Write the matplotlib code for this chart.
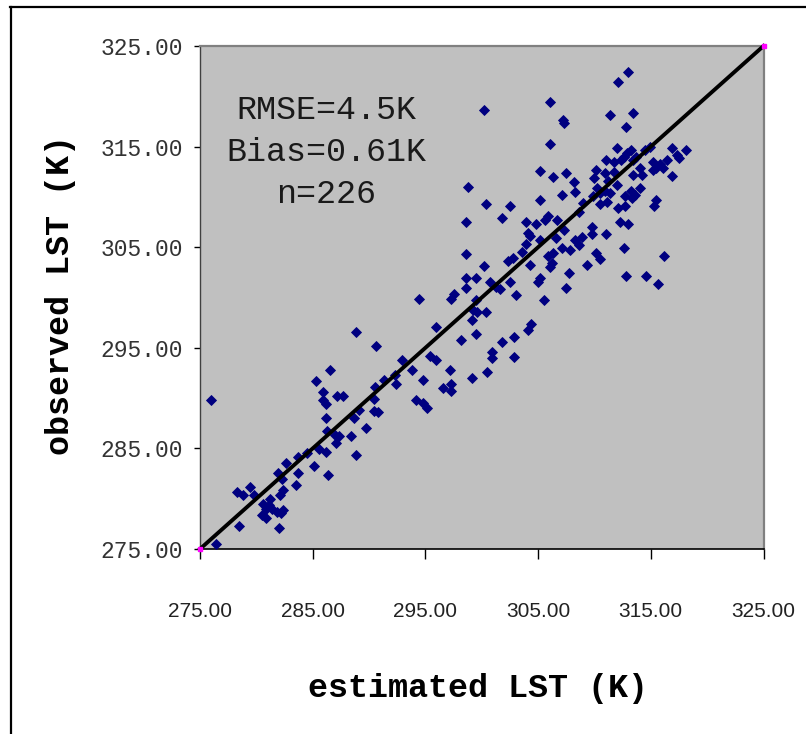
import matplotlib
matplotlib.use("Agg")
import matplotlib.pyplot as plt
from matplotlib.lines import Line2D
from matplotlib.ticker import FormatStrFormatter

# estimated vs observed land surface temperature (K)
est_lst = [276.0, 285.3, 285.9, 287.2, 287.7, 285.9, 286.2, 286.2, 288.7, 289.1,
           290.4, 290.8, 290.5, 290.4, 291.3, 292.4, 289.7, 286.3, 287.0, 287.3,
           287.1, 288.4, 285.6, 286.2, 284.5, 283.7, 288.8, 282.6, 281.9, 283.7,
           285.1, 286.4, 282.3, 283.5, 279.4, 278.3, 278.8, 279.8, 282.4, 282.1,
           281.2, 280.6, 281.1, 281.4, 280.9, 281.8, 282.4, 282.2, 280.5, 280.9,
           278.5, 282.0, 276.4,
           286.5, 288.8, 290.6, 292.9, 293.8, 292.3, 294.8, 297.3, 296.6, 297.3,
           299.1, 300.5, 300.9, 300.9, 301.8, 302.9, 302.9, 304.1, 304.4, 294.2,
           294.8, 295.1, 295.4, 295.9, 297.2, 295.9, 299.5, 298.2, 299.2, 299.6,
           299.1, 300.4, 294.4, 297.5, 297.3, 299.5, 298.6, 300.7, 298.6, 299.5,
           300.2, 298.6, 301.3, 301.6, 302.5, 303.0, 305.5, 305.0, 305.2, 304.3,
           302.3, 302.8, 303.6, 303.9, 305.2, 305.9, 306.3, 306.1, 306.2, 307.1,
           307.8, 307.7, 307.5, 308.3, 308.6, 308.9,
           306.1, 300.2, 307.2, 307.3, 306.1, 305.2, 307.5, 306.3, 308.2, 308.3,
           307.1, 298.8, 305.2, 300.4, 302.5, 301.8, 298.6, 303.9, 304.8, 305.6,
           305.9, 306.7, 304.1, 304.3, 307.3, 306.6, 309.3, 309.8, 309.8, 310.1,
           310.5, 311.0, 312.1, 312.7, 312.3, 313.0, 312.6, 312.8, 314.6, 315.6,
           316.2, 315.3, 315.5, 313.0, 312.1, 311.4, 313.4, 312.8, 312.0, 313.2,
           314.9, 314.5, 316.9, 318.1, 317.3, 317.5, 311.0, 311.7, 312.6, 312.9,
           312.4, 313.4, 313.7, 315.2, 315.8, 316.4, 315.5, 316.1, 315.2, 316.9,
           314.0, 314.2, 313.4, 310.1, 310.9, 311.7, 310.0, 311.2, 312.0, 310.2,
           310.5, 310.9, 311.4, 312.7, 313.2, 313.6, 314.0, 313.3, 309.9, 310.5,
           311.1, 309.0, 308.6]
obs_lst = [289.8, 291.7, 290.6, 290.2, 290.2, 289.8, 289.4, 288.0, 288.0, 288.8,
           288.7, 288.6, 291.1, 289.9, 291.8, 291.4, 287.0, 286.7, 286.3, 286.2,
           285.5, 286.2, 284.9, 284.6, 284.5, 284.1, 284.3, 283.5, 282.6, 282.6,
           283.3, 282.4, 282.0, 281.4, 281.2, 280.7, 280.4, 280.4, 280.9, 280.4,
           280.0, 279.5, 279.4, 279.0, 279.0, 278.7, 278.9, 278.6, 278.4, 278.1,
           277.3, 277.1, 275.5,
           292.8, 296.6, 295.2, 293.8, 292.8, 292.3, 291.8, 291.4, 291.0, 290.7,
           292.0, 292.6, 294.6, 294.0, 295.6, 296.1, 294.1, 296.8, 297.4, 289.8,
           289.5, 289.0, 294.2, 293.8, 292.8, 297.1, 296.4, 295.8, 298.8, 298.6,
           297.8, 298.6, 299.9, 300.3, 299.9, 299.8, 300.9, 301.5, 301.9, 301.9,
           303.1, 304.3, 301.0, 300.8, 301.5, 300.2, 299.8, 301.5, 301.9, 303.2,
           303.6, 303.9, 304.5, 305.3, 305.7, 304.1, 304.4, 303.0, 303.4, 304.9,
           304.7, 302.4, 300.9, 305.7, 305.2, 306.0,
           319.4, 318.6, 317.6, 317.3, 315.3, 312.6, 312.4, 312.0, 311.5, 310.5,
           310.2, 311.0, 309.7, 309.3, 309.1, 307.9, 307.5, 307.5, 307.3, 307.7,
           308.1, 307.7, 306.4, 306.1, 306.7, 305.9, 303.2, 307.0, 306.3, 304.4,
           303.8, 306.3, 308.9, 309.1, 307.5, 307.3, 304.9, 302.1, 302.1, 301.3,
           304.1, 309.1, 309.7, 322.4, 321.4, 318.1, 318.3, 316.9, 314.9, 314.7,
           315.0, 314.7, 314.9, 314.7, 314.2, 313.9, 313.7, 313.5, 314.0, 314.4,
           313.7, 313.7, 314.0, 313.5, 313.3, 313.7, 312.9, 312.9, 312.7, 312.1,
           312.9, 312.2, 312.2, 312.7, 312.4, 312.5, 311.9, 311.6, 311.2, 310.9,
           310.4, 310.6, 310.4, 310.1, 310.6, 310.2, 310.9, 309.9, 310.1, 309.3,
           309.5, 309.4, 308.5]

one_to_one = [275, 325]
ticks = [275, 285, 295, 305, 315, 325]
stats = ["RMSE=4.5K", "Bias=0.61K", "n=226"]
stats_y = [318.6, 314.4, 310.2]

MONO = ["Courier New", "Nimbus Mono PS", "FreeMono", "Liberation Mono"]

W, H = 806, 734
fig = plt.figure(figsize=(W / 100, H / 100), dpi=100)
ax = fig.add_axes([200 / W, 1 - 549 / H, 563.5 / W, 503 / H])
ax.set_facecolor("#c0c0c0")

ax.plot(est_lst, obs_lst, ls="none", marker="D", ms=5.1, color="#000080",
        mec="#000080", mew=0.6, zorder=3)
ax.plot(one_to_one, one_to_one, color="black", lw=2.8, marker="s", ms=2.5,
        mfc="#ff00ff", mec="#ff00ff", zorder=4, clip_on=False)

ax.set_xlim(275, 325)
ax.set_ylim(275, 325)
ax.set_xticks(ticks)
ax.set_yticks(ticks)
ax.xaxis.set_major_formatter(FormatStrFormatter("%.2f"))
ax.yaxis.set_major_formatter(FormatStrFormatter("%.2f"))
ax.tick_params(axis="y", direction="out", length=4.3, width=1, pad=8, color="black")
ax.tick_params(axis="x", direction="out", length=7, width=1, pad=31, color="black")
for lab in ax.get_yticklabels():
    lab.set_fontfamily("Liberation Mono")
    lab.set_fontsize(16.5)
    lab.set_color("#333333")
for lab in ax.get_xticklabels():
    lab.set_fontfamily("Liberation Sans")
    lab.set_fontsize(15)
    lab.set_color("#222222")

for side in ("top", "right"):
    ax.spines[side].set_color("#808080")
    ax.spines[side].set_linewidth(1.6)
ax.spines["left"].set_color("#404040")
ax.spines["left"].set_linewidth(1)
ax.spines["bottom"].set_color("black")
ax.spines["bottom"].set_linewidth(1.2)

for txt, yv in zip(stats, stats_y):
    ax.text(286.2, yv, txt, ha="center", va="center", fontsize=24,
            family="Liberation Mono", color="#1a1a1a", zorder=5)

fig.text(478 / W, 1 - 688 / H, "estimated LST (K)", ha="center", va="center",
         fontsize=24, fontweight="bold", family="Liberation Mono")
fig.text(61 / W, 1 - 295 / H, "observed LST (K)", ha="center", va="center",
         rotation=90, fontsize=24, fontweight="bold", family="Liberation Mono")

# chart frame (left and top edges)
fig.add_artist(Line2D([10.5 / W, 10.5 / W], [0, 1 - 7 / H], transform=fig.transFigure,
                      color="black", lw=1.6))
fig.add_artist(Line2D([10 / W, 1], [1 - 7 / H, 1 - 7 / H], transform=fig.transFigure,
                      color="black", lw=1.6))

fig.savefig("out.png", dpi=100)
